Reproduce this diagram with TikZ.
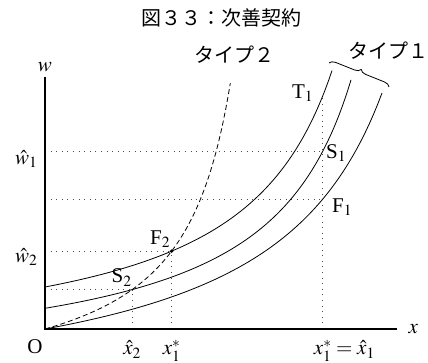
\documentclass[tikz,border=0pt]{standalone}
\IfFileExists{mathptmx.sty}{\usepackage{mathptmx}}{}
\usepackage[no-math]{fontspec}
\setmainfont{Liberation Serif}
\newfontfamily\jpfont{Noto Sans CJK JP}
\usetikzlibrary{positioning, intersections, decorations.pathreplacing}

\begin{document}
\begin{tikzpicture}[
  x=1pt, y=1pt,
  axis/.style={line width=1.6pt},
  curve/.style={line width=0.8pt},
  typetwo/.style={line width=0.8pt, dash pattern=on 5pt off 3pt},
  guide/.style={line width=1pt, black!70, dash pattern=on 1pt off 4.6pt},
  lbl/.style={font=\fontsize{21}{23}\selectfont},
  jp/.style={font=\jpfont\fontsize{20}{24}\selectfont},
  brace/.style={decorate, decoration={brace, amplitude=6pt}, line width=0.8pt}
]
\useasboundingbox (-45,-34) rectangle (383,329);

\coordinate (o) at (0,0);
\coordinate (xend) at (352,0);
\coordinate (yend) at (0,252);

\path[name path=top] plot[domain=0:287, samples=80] (\x, {42+72.68*(\x/(383.4-\x))});
\path[name path=mid] plot[domain=0:306, samples=80] (\x, {20.7+65.9*(\x/(394.3-\x))});
\path[name path=low] plot[domain=0:337, samples=80] (\x, {83.45*(\x/(456.2-\x))});
\path[name path=tpath] plot[domain=0:185.3, samples=80] (\x, {67.26*(\x/(236-\x))});
\path[name path=vline] (277.7,0) -- (277.7,300);

\path[name intersections={of=top and vline, by=T1}];
\path[name intersections={of=mid and vline, by=S1}];
\path[name intersections={of=low and vline, by=F1}];
\path[name intersections={of=top and tpath, by=F2}];
\path[name intersections={of=mid and tpath, by=S2}];

\coordinate (x2) at (S2 |- o);
\coordinate (x1s) at (F2 |- o);
\coordinate (x1) at (T1 |- o);

\draw[guide] (S1 -| o) -- (S1);
\draw[guide] (F1 -| o) -- (F1);
\draw[guide] (F2 -| o) -- (F2);
\draw[guide] (S2 -| o) -- (S2);
\draw[guide] (x2) -- (S2);
\draw[guide] (x1s) -- (F2);
\draw[guide] (x1) -- (T1);

\draw[curve] plot[domain=0:287, samples=80] (\x, {42+72.68*(\x/(383.4-\x))});
\draw[curve] plot[domain=0:306, samples=80] (\x, {20.7+65.9*(\x/(394.3-\x))});
\draw[curve] plot[domain=0:337, samples=80] (\x, {83.45*(\x/(456.2-\x))});
\draw[typetwo] plot[domain=0:185.3, samples=80] (\x, {67.26*(\x/(236-\x))});

\draw[axis] (yend) -- (o) -- (xend);
\fill (F2) circle (1.8pt);

\node[lbl, above=2pt of yend] (wlab) {$w$};
\node[lbl, right=8pt of xend] (xlab) {$x$};
\node[lbl] (olab) at (-10,-18) {O};

\node[lbl, anchor=base, yshift=-26pt] (x2lab) at (x2) {$\hat{x}_2$};
\node[lbl, anchor=base, yshift=-26pt] (x1slab) at (x1s) {$x_1^*$};
\node[lbl, anchor=base, yshift=-26pt] (x1lab) at (x1) {$x_1^*$\rlap{$\;=\hat{x}_1$}};

\node[lbl, anchor=base east, xshift=-4pt, yshift=-13pt] (w1lab) at (S1 -| o) {$\hat{w}_1$};
\node[lbl, anchor=base east, xshift=-4pt, yshift=-11pt] (w2lab) at (F2 -| o) {$\hat{w}_2$};

\node[lbl, left=6pt of T1, yshift=3pt] (t1lab) {T$_1$};
\node[lbl, right=0pt of S1, yshift=-2pt] (s1lab) {S$_1$};
\node[lbl, right=6pt of F1, yshift=-8pt] (f1lab) {F$_1$};
\node[lbl, above left=0pt and -2pt of F2] (f2lab) {F$_2$};
\node[lbl, above left=0pt and -3pt of S2] (s2lab) {S$_2$};

\coordinate (bl) at (284,266);
\coordinate (br) at (344,242);
\draw[brace] (bl) -- (br);

\node[jp] (title) at (176,311) {図３３：次善契約};
\node[jp] (type2) at (189,274) {タイプ２};
\node[jp] (type1) at (343,278) {タイプ１};
\end{tikzpicture}
\end{document}
